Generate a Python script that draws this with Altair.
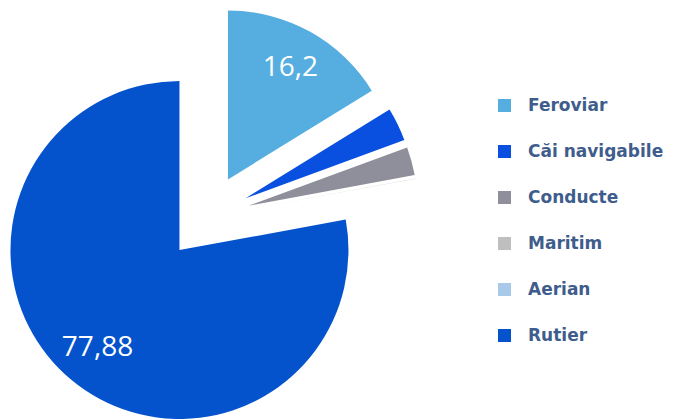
import altair as alt
import pandas as pd

categories = ["Feroviar", "Căi navigabile", "Conducte", "Maritim", "Aerian", "Rutier"]
values = [16.2, 3.2, 2.7, 0.01, 0.01, 77.88]
labels = ["16,2", "", "", "", "", "77,88"]
colors = ["#56aee0", "#0a50e0", "#8e8f9b", "#bfbfbf", "#a9c9ea", "#0553cc"]

df = pd.DataFrame({"cat": categories, "val": values, "lab": labels, "ord": list(range(len(categories)))})

CX, CY = 199, 209
OFF = 43
R = 169
LR = 128

base = alt.Chart(df).transform_joinaggregate(
    total="sum(val)"
).transform_window(
    cum="sum(val)", sort=[alt.SortField("ord")], frame=[None, 0]
).transform_calculate(
    t0="(datum.cum - datum.val) / datum.total * 2 * PI",
    t1="datum.cum / datum.total * 2 * PI",
).transform_calculate(
    mid="(datum.t0 + datum.t1) / 2"
).transform_calculate(
    px=f"{CX} + {OFF} * sin(datum.mid)",
    py=f"{CY} - {OFF} * cos(datum.mid)",
).transform_calculate(
    lx=f"datum.px + {LR} * sin(datum.mid)",
    ly=f"datum.py - {LR} * cos(datum.mid)",
)

arcs = base.mark_arc(radius=R).encode(
    theta=alt.Theta("t0:Q", scale=None),
    theta2="t1:Q",
    x=alt.X("px:Q", scale=None),
    y=alt.Y("py:Q", scale=None),
    color=alt.Color(
        "cat:N",
        scale=alt.Scale(domain=categories, range=colors),
        legend=alt.Legend(
            title=None,
            orient="none",
            legendX=488,
            legendY=89,
            symbolType="square",
            symbolSize=169,
            symbolStrokeWidth=0,
            labelFont="DejaVu Sans",
            labelFontWeight="bold",
            labelFontSize=17,
            labelColor="#3f5d8c",
            labelOffset=15,
            rowPadding=28,
            padding=0,
            labelLimit=300,
        ),
    ),
    order=alt.Order("ord:Q"),
)

text = base.transform_filter("datum.lab != ''").mark_text(
    font="Open Sans", fontSize=28, color="white", align="center", baseline="middle"
).encode(
    x=alt.X("lx:Q", scale=None),
    y=alt.Y("ly:Q", scale=None),
    text="lab:N",
)

chart = alt.layer(arcs, text).properties(
    width=660, height=411, padding=0, autosize="none"
).configure_view(stroke=None)

chart.save("out.html", embed_options={"renderer": "svg", "actions": False})
